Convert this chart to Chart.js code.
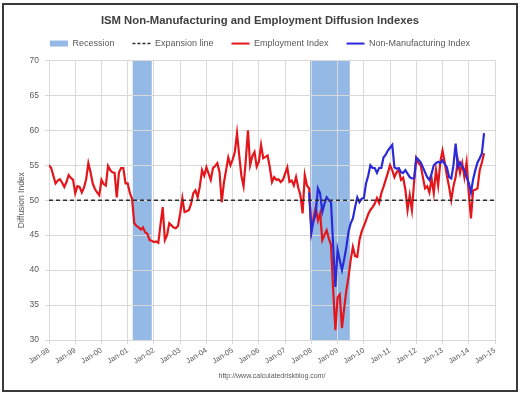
<!DOCTYPE html>
<html>
<head>
<meta charset="utf-8">
<script src="https://cdn.jsdelivr.net/npm/chart.js@4/dist/chart.umd.min.js"></script>
<style>
html,body{margin:0;padding:0;background:#fff;}
#frame{position:absolute;left:2px;top:3px;width:516px;height:389px;box-sizing:border-box;border:2px solid #3a3a3a;background:#fff;}
#c{position:absolute;left:0;top:0;}
</style>
</head>
<body>
<div id="frame"><canvas id="c" width="512" height="385"></canvas></div>
<script>
// ---- Data (monthly, starting Jan 1998) ----
const startYear = 1998;
const yearTicks = ['Jan-98','Jan-99','Jan-00','Jan-01','Jan-02','Jan-03','Jan-04','Jan-05','Jan-06','Jan-07','Jan-08','Jan-09','Jan-10','Jan-11','Jan-12','Jan-13','Jan-14','Jan-15'];

// ISM Non-Manufacturing Employment Index, Jan 1998 - Aug 2014
const employmentIndex = [
  55.0, 54.6, 53.5, 52.4, 52.8, 53.0, 52.5, 51.9, 52.6, 53.6, 53.2, 52.9,
  51.0, 52.0, 51.9, 51.1, 51.8, 53.0, 55.3, 54.0, 52.4, 51.6, 51.1, 50.7,
  52.9, 52.3, 52.1, 54.9, 54.3, 54.0, 53.9, 50.4, 54.0, 54.6, 54.6, 52.4,
  52.4, 51.0, 50.2, 46.7, 46.3, 46.1, 45.8, 46.1, 45.4, 45.2, 44.3, 44.2,
  44.0, 44.1, 43.9, 46.5, 49.0, 44.3, 45.0, 46.7, 46.4, 46.1, 46.0, 46.3,
  48.1, 50.3, 48.3, 48.4, 48.6, 49.5, 51.0, 51.4, 50.4, 52.0, 54.3, 53.5,
  54.7, 53.8, 52.9, 54.6, 54.9, 55.3, 54.0, 49.7, 52.5, 54.3, 56.1, 55.0,
  55.8, 56.9, 59.6, 56.4, 53.5, 52.0, 55.7, 60.0, 55.0, 56.3, 56.9, 54.8,
  55.5, 57.9, 56.0, 56.2, 56.4, 54.7, 52.6, 53.3, 52.9, 53.0, 52.6, 52.9,
  53.8, 54.7, 52.6, 52.8, 52.1, 53.3, 51.8, 50.7, 48.1, 53.6, 52.1, 51.7,
  45.7, 47.5, 49.0, 47.1, 48.1, 44.3, 45.0, 45.7, 44.5, 43.6, 37.1, 31.4,
  36.1, 36.5, 31.7, 34.5, 37.1, 39.0, 41.5, 43.3, 42.0, 41.9, 44.3, 45.5,
  46.3, 47.1, 48.0, 48.6, 49.0, 49.5, 50.3, 49.6, 51.0, 51.9, 52.9, 53.9,
  55.0, 54.3, 53.3, 54.0, 54.3, 52.9, 53.2, 51.5, 48.6, 50.7, 48.6, 52.6,
  56.0, 55.3, 55.0, 53.3, 51.7, 52.0, 51.1, 53.1, 51.0, 54.3, 52.1, 55.5,
  57.1, 55.4, 53.5, 51.9, 50.0, 52.0, 53.3, 55.7, 53.9, 55.3, 53.3, 55.4,
  51.0, 47.4, 51.4, 51.5, 51.7, 54.3, 55.4, 56.7
];

// ISM Non-Manufacturing Index, Dec 2007 - Aug 2014
const nonMfgStartMonth = 119; // months after Jan 1998
const nonManufacturingIndex = [
  51.1,
  45.3, 47.0, 48.1, 51.7, 51.0, 48.3, 49.5, 50.4, 50.0, 49.7, 43.3, 37.6,
  42.9, 41.4, 40.0, 41.5, 43.3, 45.5, 46.7, 47.4, 49.0, 50.4, 49.7, 50.2,
  50.3, 52.4, 53.5, 55.0, 54.6, 54.6, 53.9, 54.6, 54.6, 56.1, 56.5, 57.1,
  57.5, 57.9, 54.7, 54.5, 54.6, 54.0, 53.9, 54.3, 53.8, 53.3, 53.1, 53.1,
  56.1, 55.8, 55.4, 54.7, 54.0, 53.3, 52.9, 53.8, 55.0, 55.3, 55.5, 55.3,
  55.7, 55.2, 54.7, 53.3, 53.1, 55.0, 58.1, 54.7, 55.4, 54.8, 54.3, 53.3,
  52.5, 51.1, 53.0, 54.3, 55.4, 56.0, 56.7, 59.6
];

const expansionLevel = 50;
// Recessions (months after Jan 1998)
const recessionStart = [38.3, 119.4];
const recessionEnd   = [47.0, 137.6];

const yMin = 30, yMax = 70, yStep = 5;
const xMaxMonth = 204; // Jan-15

// ---- Build datasets ----
const empPoints = employmentIndex.map((v, i) => ({x: i, y: v}));
const nmiPoints = nonManufacturingIndex.map((v, i) => ({x: nonMfgStartMonth + i, y: v}));
const expPoints = [{x: 0, y: expansionLevel}, {x: xMaxMonth, y: expansionLevel}];

const COL_RED = '#e3161c';
const COL_BLUE = '#2b2ad8';
const COL_REC = '#95b9e5';
const COL_TXT = '#595959';
const COL_GRID = '#d9d9d9';
const FONT = 'Liberation Sans, Arial, sans-serif';

const recessionPlugin = {
  id: 'recessions',
  beforeDraw(chart) {
    const {ctx, chartArea, scales} = chart;
    ctx.save();
    ctx.fillStyle = COL_REC;
    for (let i = 0; i < recessionStart.length; i++) {
      const x0 = scales.x.getPixelForValue(recessionStart[i]);
      const x1 = scales.x.getPixelForValue(recessionEnd[i]);
      ctx.fillRect(x0, chartArea.top, x1 - x0, chartArea.bottom - chartArea.top);
    }
    ctx.restore();
  }
};

const ctx = document.getElementById('c').getContext('2d');
new Chart(ctx, {
  type: 'line',
  data: {
    datasets: [
      {label: 'Expansion line', data: expPoints, borderColor: '#2e2e2e', borderWidth: 1.5, borderDash: [4, 3], pointRadius: 0, order: 0},
      {label: 'Non-Manufacturing Index', data: nmiPoints, borderColor: COL_BLUE, borderWidth: 2.2, pointRadius: 0, tension: 0, order: 1},
      {label: 'Employment Index', data: empPoints, borderColor: COL_RED, borderWidth: 2.2, pointRadius: 0, tension: 0, order: 2}
    ]
  },
  options: {
    responsive: false,
    animation: false,
    events: [],
    layout: {padding: {top: 2.5, left: 21, right: 21, bottom: 0}},
    scales: {
      x: {
        type: 'linear', min: 0, max: xMaxMonth,
        ticks: {
          stepSize: 12, autoSkip: false, maxRotation: 32, minRotation: 32,
          font: {size: 7.5, family: FONT}, color: COL_TXT, padding: 2,
          callback: (v) => { const k = v / 12; return Number.isInteger(k) ? yearTicks[k] : ''; }
        },
        grid: {color: COL_GRID, tickLength: 4},
        border: {color: COL_GRID},
        title: {display: true, text: 'http://www.calculatedriskblog.com/', color: COL_TXT,
                font: {size: 7, family: FONT}, padding: {top: 0, bottom: 10}},
        afterFit(s) { s.height = 50; }
      },
      xTop: {
        type: 'linear', position: 'top', display: true,
        grid: {display: false}, ticks: {display: false}, border: {display: false},
        afterFit(s) { s.height = 2.3; }
      },
      y: {
        min: yMin, max: yMax,
        ticks: {stepSize: yStep, font: {size: 8.5, family: FONT}, color: COL_TXT, padding: 6},
        grid: {color: COL_GRID, tickLength: 4},
        border: {color: COL_GRID},
        title: {display: true, text: 'Diffusion Index', color: COL_TXT,
                font: {size: 8.5, family: FONT}, padding: {top: -8, bottom: 0}},
        afterFit(s) { s.width = 24; }
      }
    },
    plugins: {
      title: {
        display: true,
        text: 'ISM Non-Manufacturing and Employment Diffusion Indexes',
        color: '#404040',
        font: {size: 11.3, weight: 'bold', family: FONT},
        padding: {top: 7, bottom: -7}
      },
      legend: {
        display: true,
        position: 'top',
        labels: {
          usePointStyle: true,
          pointStyleWidth: 18,
          boxHeight: 6,
          padding: 18,
          color: COL_TXT,
          font: {size: 9, family: FONT},
          generateLabels: () => [
            {text: 'Recession', fillStyle: COL_REC, strokeStyle: COL_REC, lineWidth: 0, pointStyle: 'rect', fontColor: COL_TXT},
            {text: 'Expansion line', fillStyle: 'rgba(0,0,0,0)', strokeStyle: '#2e2e2e', lineWidth: 1.5, lineDash: [3, 2], pointStyle: 'line', fontColor: COL_TXT},
            {text: 'Employment Index', fillStyle: COL_RED, strokeStyle: COL_RED, lineWidth: 2, pointStyle: 'line', fontColor: COL_TXT},
            {text: 'Non-Manufacturing Index', fillStyle: COL_BLUE, strokeStyle: COL_BLUE, lineWidth: 2, pointStyle: 'line', fontColor: COL_TXT}
          ]
        }
      },
      tooltip: {enabled: false}
    }
  },
  plugins: [recessionPlugin]
});
</script>
</body>
</html>
